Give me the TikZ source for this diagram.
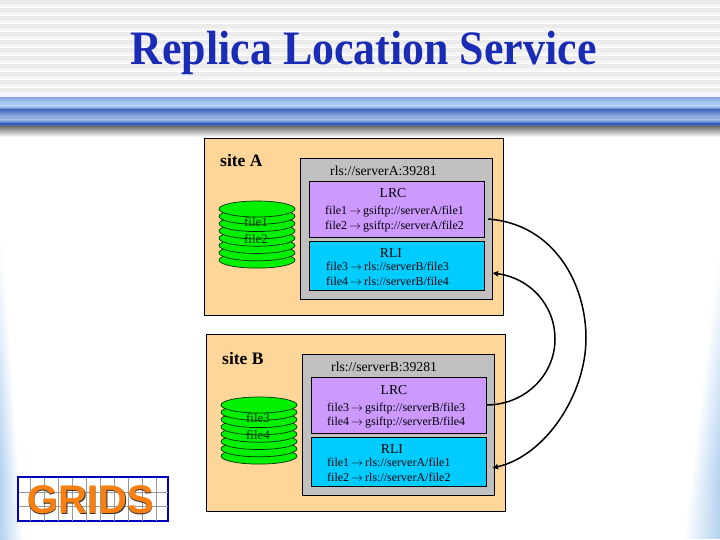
\documentclass[tikz,border=0pt]{standalone}
\usepackage{fontspec}
\setmainfont{Liberation Serif}
\setsansfont{Liberation Sans}
\usetikzlibrary{arrows.meta}
\definecolor{titleblue}{HTML}{1A2BB5}
\definecolor{sidebg}{HTML}{B4D2F0}
\definecolor{bandlight}{HTML}{A5C8F0}
\definecolor{banddark}{HTML}{4A6EC0}
\definecolor{bandmid}{HTML}{92ACE2}
\definecolor{banddeep}{HTML}{3A60B2}
\definecolor{sitefill}{HTML}{FFD699}
\definecolor{rlsfill}{HTML}{C0C0C0}
\definecolor{lrcfill}{HTML}{CC99FF}
\definecolor{rlifill}{HTML}{00CCFF}
\definecolor{diskfill}{HTML}{00F000}
\definecolor{logoorange}{HTML}{F98010}
\newcommand{\mapsarrow}{\,$\rightarrow$\,}
\begin{document}
\begin{tikzpicture}[
  x=1pt,y=-1pt,
  box/.style={draw=black,line width=0.8pt,inner sep=0pt},
  sitebox/.style={box,fill=sitefill,minimum width=299.5,minimum height=177},
  rlsbox/.style={box,fill=rlsfill,minimum width=192,minimum height=141},
  lrcbox/.style={box,fill=lrcfill,minimum width=175,minimum height=56},
  rlibox/.style={box,fill=rlifill,minimum width=175,minimum height=49},
  disk/.style={draw=black!80!green,line width=0.7pt,fill=diskfill},
  sitelbl/.style={font=\fontsize{17.5}{20}\selectfont\bfseries,anchor=west,inner sep=0pt},
  lbl/.style={font=\fontsize{13.7}{16}\selectfont,inner sep=0pt},
  disklbl/.style={font=\fontsize{13}{16}\selectfont,text=black!80!green,inner sep=0pt},
  maplbl/.style={font=\fontsize{12}{15}\selectfont,anchor=west,inner sep=0pt},
  link/.style={draw=black,line width=1.5pt},
]
\useasboundingbox (0,0) rectangle (720,540);

% ----- Background -----
\fill[white] (0,0) rectangle (720,540);
\fill[black!4] (0,0) rectangle (720,93);
\foreach \yy in {0,8,...,88} {
  \fill[black!8] (0,\yy) rectangle (720,\yy+4);
  \fill[white] (0,\yy+7) rectangle (720,\yy+8);
}
\foreach \yy [evaluate=\yy as \mix using {min(100,0.4333*(\yy-240))},
              evaluate=\yy as \ww using {3+0.0667*(\yy-240)}] in {240,244,...,536} {
  \shade[left color=sidebg!\mix!white,right color=white] (0,\yy) rectangle (\ww,\yy+4.3);
}
\foreach \yy [evaluate=\yy as \mix using {min(100,0.448*(\yy-250))},
              evaluate=\yy as \ww using {3+0.117*(\yy-250)}] in {250,254,...,536} {
  \shade[left color=white,right color=sidebg!\mix!white] (720-\ww,\yy) rectangle (720,\yy+4.3);
}

% ----- Title band -----
\fill[black!18!blue!4!white] (0,93) rectangle (720,97);
\fill[blue!35!black!70] (0,97) rectangle (720,98);
\shade[top color=bandmid,bottom color=bandlight] (0,98) rectangle (720,102);
\fill[bandlight] (0,102) rectangle (720,106);
\shade[top color=bandlight,bottom color=banddark] (0,106) rectangle (720,110);
\shade[top color=banddark,bottom color=bandmid] (0,110) rectangle (720,116);
\fill[bandmid] (0,116) rectangle (720,120);
\shade[top color=bandmid,bottom color=banddeep] (0,120) rectangle (720,124);
\shade[top color=banddeep,bottom color=black!55] (0,124) rectangle (720,126.5);
\shade[top color=black!55,bottom color=white] (0,126.5) rectangle (720,137);
\node[font=\fontsize{48}{50}\selectfont\bfseries,text=titleblue,inner sep=0pt,anchor=base] (title) at (363.5,65)
  {\scalebox{0.915}[1]{Replica Location Service}};

% ----- Site A -----
\node[sitebox] (siteA) at (354,226.5) {};
\node[sitelbl] (siteAlbl) at (220,161) {site A};
\foreach \i in {7,...,0} \draw[disk] (257,{209+7.3*\i}) ellipse (38 and 8);
\node[disklbl] (fileAa) at (256,222) {file1};
\node[disklbl] (fileAb) at (256,239) {file2};
\node[rlsbox] (rlsA) at (396,228.5) {};
\node[lbl,anchor=west] (rlsAlbl) at (330,171) {rls://serverA:39281};
\node[lrcbox] (lrcA) at (396.5,209) {};
\node[lbl] (lrcAlbl) at (393,193) {LRC};
\node[maplbl] (lrcAa) at (325,212) {file1\mapsarrow gsiftp://serverA/file1};
\node[maplbl] (lrcAb) at (325,227) {file2\mapsarrow gsiftp://serverA/file2};
\node[rlibox] (rliA) at (396.5,265.5) {};
\node[lbl] (rliAlbl) at (391,253) {RLI};
\node[maplbl] (rliAa) at (326,266) {file3\mapsarrow rls://serverB/file3};
\node[maplbl] (rliAb) at (326,281) {file4\mapsarrow rls://serverB/file4};

% ----- Site B -----
\begin{scope}[shift={(2,196)}]
  \node[sitebox] (siteB) at (354,226.5) {};
  \node[sitelbl] (siteBlbl) at (220,163) {site B};
  \foreach \i in {7,...,0} \draw[disk] (257,{209+7.3*\i}) ellipse (38 and 8);
  \node[disklbl] (fileBa) at (256,222) {file3};
  \node[disklbl] (fileBb) at (256,239) {file4};
  \node[rlsbox] (rlsB) at (396,228.5) {};
  \node[lbl,anchor=west] (rlsBlbl) at (329,171) {rls://serverB:39281};
  \node[lrcbox] (lrcB) at (396.5,209) {};
  \node[lbl] (lrcBlbl) at (392,194) {LRC};
  \node[maplbl] (lrcBa) at (325,213) {file3\mapsarrow gsiftp://serverB/file3};
  \node[maplbl] (lrcBb) at (325,227) {file4\mapsarrow gsiftp://serverB/file4};
  \node[rlibox] (rliB) at (396.5,265.5) {};
  \node[lbl] (rliBlbl) at (390,253) {RLI};
  \node[maplbl] (rliBa) at (325,266) {file1\mapsarrow rls://serverA/file1};
  \node[maplbl] (rliBb) at (325,281) {file2\mapsarrow rls://serverA/file2};
\end{scope}

% ----- Links between servers -----
\coordinate (outA) at (488,219);
\coordinate (inA) at (492,273);
\coordinate (outB) at (486,405);
\coordinate (inB) at (492,468);
\coordinate (farA) at (586,338);
\coordinate (farB) at (555,339);
\draw[link,-{Latex[length=6pt,width=6pt]}] (outA) .. controls (555,224) and (586,285) .. (farA)
  .. controls (586,395) and (545,456) .. (inB);
\draw[link,-{Latex[length=6pt,width=6pt]}] (outB) .. controls (525,405) and (555,375) .. (farB)
  .. controls (555,305) and (530,278) .. (inA);

% ----- GRIDS logo -----
\node[draw=blue!75!black,line width=1.2pt,fill=white,minimum width=150,minimum height=44,inner sep=0pt] (logo) at (93,499) {};
\foreach \xx in {30,44,58,72,86,100,114,128,142,156} \draw[black!40,line width=0.9pt] (\xx,477.5) -- (\xx,520.5);
\foreach \yy in {492,506} \draw[black!40,line width=0.9pt] (18.5,\yy) -- (167.5,\yy);
\node[font=\fontsize{40}{42}\selectfont\sffamily\bfseries,text=black!80,inner sep=0pt,anchor=base] (logoshadow) at (91.3,514.3) {GRIDS};
\node[font=\fontsize{40}{42}\selectfont\sffamily\bfseries,text=logoorange,inner sep=0pt,anchor=base] (logotext) at (90.5,513.5) {GRIDS};
\end{tikzpicture}
\end{document}
